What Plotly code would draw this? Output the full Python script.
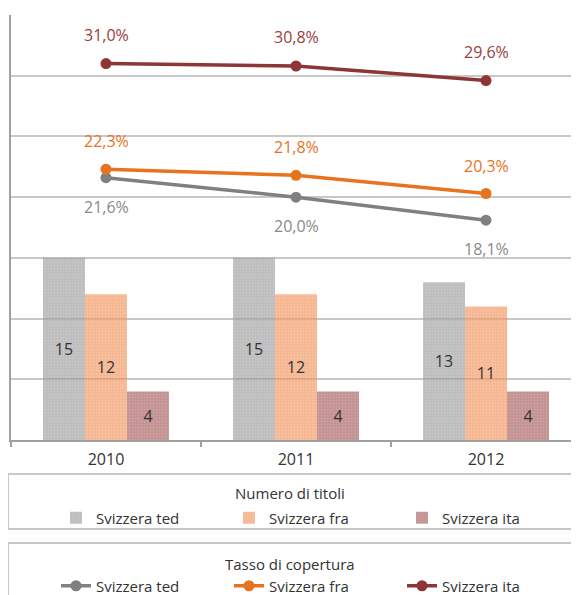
import plotly.graph_objects as go

years = ["2010", "2011", "2012"]
series = ["Svizzera ted", "Svizzera fra", "Svizzera ita"]
titoli_ted = [15, 15, 13]
titoli_fra = [12, 12, 11]
titoli_ita = [4, 4, 4]
tasso_ted = [21.6, 20.0, 18.1]
tasso_fra = [22.3, 21.8, 20.3]
tasso_ita = [31.0, 30.8, 29.6]
legend_titles = ["Numero di titoli", "Tasso di copertura"]

bar_colors = ["rgba(150,150,150,0.62)", "rgba(240,140,80,0.62)", "rgba(160,80,80,0.62)"]
line_colors = ["#808080", "#E8731E", "#8E3535"]
label_colors = ["#8a8a8a", "#E8731E", "#9A4040"]

FONT = "Open Sans"

# page body has an 8px margin; plot area spans x 11..579, y 15..440 on screen
W, H = 571, 610
ML, MT = 3, 7
PW, PH = W - ML, 425
MB = H - MT - PH


def py(screen_y):
    return (440 - screen_y) / PH


def px(screen_x):
    return (screen_x - 11) / PW


fig = go.Figure()

for name, vals, col in zip(series, [titoli_ted, titoli_fra, titoli_ita], bar_colors):
    fig.add_trace(go.Bar(
        x=years, y=vals, name=name, legend="legend",
        marker=dict(color=col, line=dict(width=0),
                    pattern=dict(shape=".", size=3, solidity=0.25, fgcolor="rgba(255,255,255,0.35)")),
        text=[str(v) for v in vals], textposition="inside", insidetextanchor="middle",
        textfont=dict(size=16, color="#333333", family=FONT),
        textangle=0,
    ))

for name, vals, col in zip(series, [tasso_ted, tasso_fra, tasso_ita], line_colors):
    fig.add_trace(go.Scatter(
        x=years, y=vals, name=name, legend="legend2", yaxis="y2",
        mode="lines+markers", line=dict(color=col, width=3.5),
        marker=dict(color=col, size=11),
    ))

# value labels for lines (both y axes share the 0-35 scale)
annotations = []
for vals, col, shift in zip([tasso_ted, tasso_fra, tasso_ita], label_colors, [-29, 28, 29]):
    for i, v in enumerate(vals):
        annotations.append(dict(x=i, y=v, xref="x", yref="y",
                                text=f"{v:.1f}%".replace(".", ","),
                                showarrow=False, yshift=shift,
                                font=dict(size=16, color=col, family=FONT)))

# legend titles
for t, sy in zip(legend_titles, [493, 564]):
    annotations.append(dict(x=px(290), y=py(sy), xref="paper", yref="paper", text=t,
                            showarrow=False, xanchor="center", yanchor="middle",
                            font=dict(size=15, color="#333333", family=FONT)))

# legend boxes
shapes = [
    dict(type="rect", xref="paper", yref="paper",
         x0=px(8), x1=px(600), y0=py(529), y1=py(474),
         line=dict(color="#c8c8c8", width=2), fillcolor="rgba(0,0,0,0)"),
    dict(type="rect", xref="paper", yref="paper",
         x0=px(8), x1=px(600), y0=py(640), y1=py(543),
         line=dict(color="#c8c8c8", width=2), fillcolor="rgba(0,0,0,0)"),
]

legend_common = dict(orientation="h", xanchor="left", yanchor="middle",
                     font=dict(size=15, color="#333333", family=FONT),
                     entrywidth=128, entrywidthmode="pixels",
                     bgcolor="rgba(0,0,0,0)", borderwidth=0)

fig.update_layout(
    width=W, height=H,
    margin=dict(l=ML, r=0, t=MT, b=MB, autoexpand=False),
    paper_bgcolor="white", plot_bgcolor="white",
    font=dict(family=FONT, color="#333333"),
    barmode="group", bargap=0.337, bargroupgap=0,
    annotations=annotations, shapes=shapes,
    xaxis=dict(type="category", range=[-0.5, -0.5 + PW / 190], showline=True, linecolor="#a0a0a0",
               linewidth=2, ticks="outside", tickson="boundaries", ticklen=5,
               tickcolor="#a0a0a0", tickwidth=2, showgrid=False,
               tickfont=dict(size=16, color="#333333", family=FONT), ticklabelstandoff=4),
    yaxis=dict(range=[0, 35], dtick=5, showgrid=True, gridcolor="#c8c8c8", gridwidth=1.5,
               showticklabels=False, zeroline=False, showline=True, linecolor="#a0a0a0",
               linewidth=2, ticks=""),
    yaxis2=dict(range=[0, 35], overlaying="y", side="right", showgrid=False,
                showticklabels=False, zeroline=False, showline=False),
    legend=dict(x=px(56), y=py(518), **legend_common),
    legend2=dict(x=px(56), y=py(586), **legend_common),
    showlegend=True,
)

fig.write_html("out.html")
